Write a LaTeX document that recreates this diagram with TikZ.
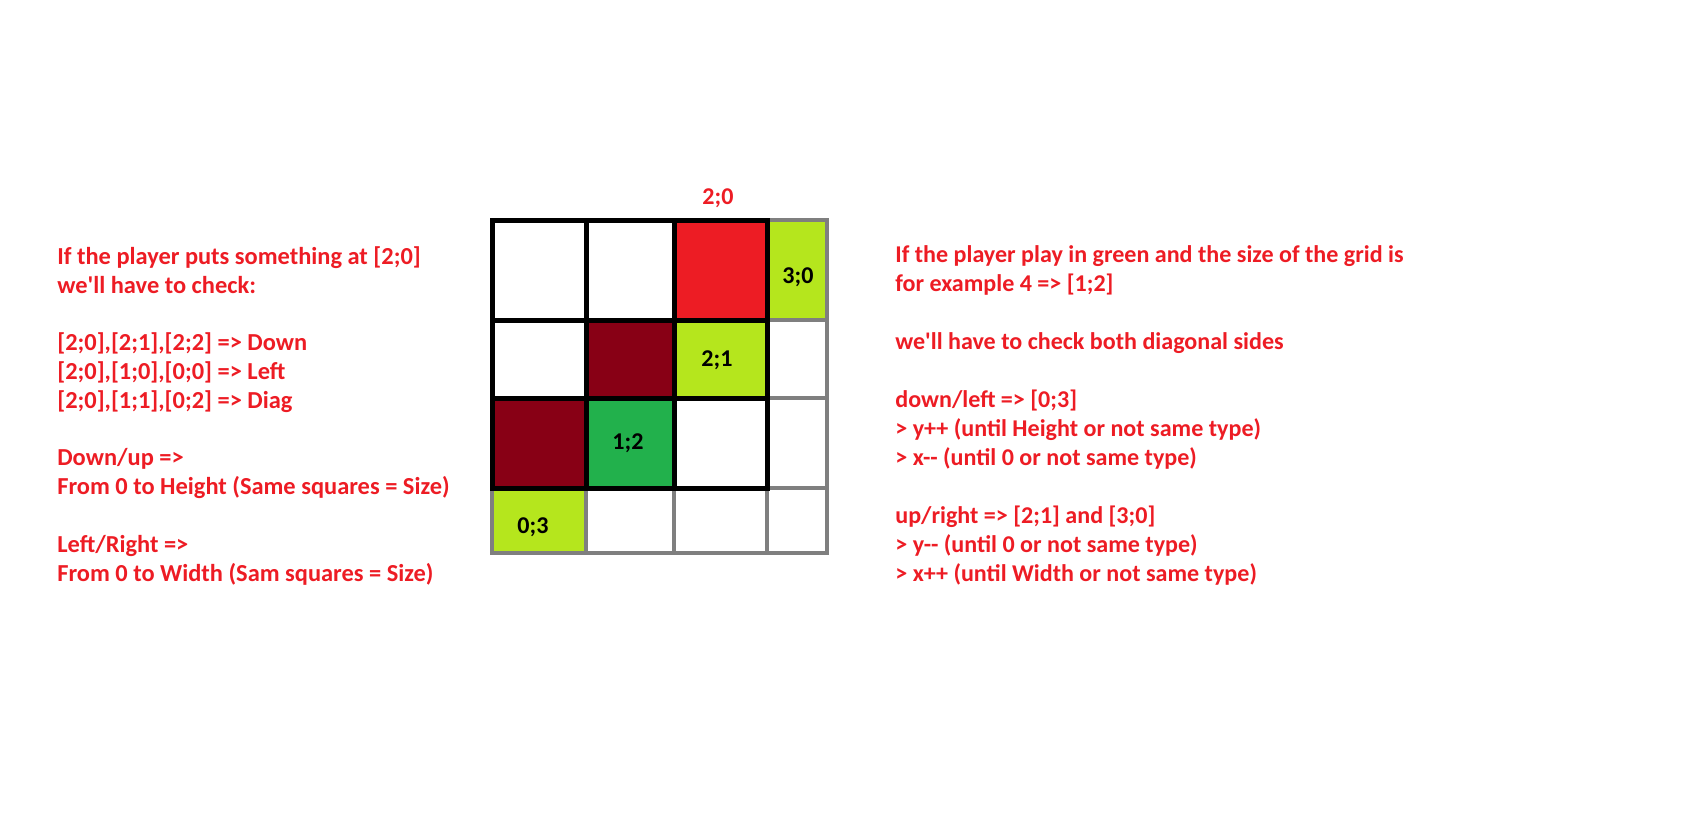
\documentclass[tikz,border=0pt]{standalone}
\usepackage{fontspec}
\setmainfont{Carlito}
\usepackage{xcolor}
\definecolor{paintred}{HTML}{ED1C24}
\definecolor{paintdark}{HTML}{880015}
\definecolor{paintgreen}{HTML}{22B14C}
\definecolor{paintlime}{HTML}{B5E61D}
\definecolor{paintgray}{HTML}{7F7F7F}
\tikzset{
  font={\fontsize{13.7pt}{16.4pt}\selectfont\bfseries}}

\begin{document}
\begin{tikzpicture}[x=0.02cm, y=-0.02cm]

    \tikzset{note/.style = {anchor=north west, inner sep=0pt, align=left, text=paintred}}
    \tikzset{cell/.style = {inner sep=0pt}}

    \useasboundingbox (0,0) rectangle (1697,815);

    % cells
    \fill[paintred]   (674,220) rectangle (767,320);
    \fill[paintlime]  (767,220) rectangle (827,320);
    \fill[paintdark]  (586,320) rectangle (674,398);
    \fill[paintlime]  (674,320) rectangle (767,398);
    \fill[paintdark]  (492,398) rectangle (586,488);
    \fill[paintgreen] (586,398) rectangle (674,488);
    \fill[paintlime]  (492,488) rectangle (586,553);

    % grid lines
    \draw[paintgray, line width=2.3pt] (492,220) rectangle (827,553);
    \draw[paintgray, line width=2.3pt] (586,488) -- (586,553) (674,488) -- (674,553) (767,220) -- (767,553);
    \draw[paintgray, line width=2.3pt] (767,320) -- (827,320) (767,398) -- (827,398) (767,488) -- (827,488);
    \draw[black, line width=2.85pt] (492,220) rectangle (767,488);
    \draw[black, line width=2.85pt] (586,220) -- (586,488) (674,220) -- (674,488);
    \draw[black, line width=2.85pt] (492,320) -- (767,320) (492,398) -- (767,398);

    % labels
    \node[cell, text=paintred] (top) at (718,198) {2;0};
    \node[cell] (c30) at (798,277) {3;0};
    \node[cell] (c21) at (717,360) {2;1};
    \node[cell] (c12) at (628,443) {1;2};
    \node[cell] (c03) at (533,527) {0;3};

    % texts
    \node[note, font={\fontsize{13.9pt}{16.4pt}\selectfont\bfseries}] (left) at (57,246) {If the player puts something at [2;0]\\
      we\textquotesingle ll have to check:\\[16.4pt]
      {[2;0],[2;1],[2;2]} => Down\\
      {[2;0],[1;0],[0;0]} => Left\\
      {[2;0],[1;1],[0;2]} => Diag\\[16.4pt]
      Down/up =>\\
      From 0 to Height (Same squares = Size)\\[16.4pt]
      Left/Right =>\\
      From 0 to Width (Sam squares = Size)};
    \node[note, font={\fontsize{13.7pt}{16.5pt}\selectfont\bfseries}] (right) at (895,245) {If the player play in green and the size of the grid is\\
      for example 4 => [1;2]\\[16.5pt]
      we\textquotesingle ll have to check both diagonal sides\\[16.5pt]
      down/left => [0;3]\\
      > y++ (until Height or not same type)\\
      > x-{}- (until 0 or not same type)\\[16.5pt]
      up/right => [2;1] and [3;0]\\
      > y-{}- (until 0 or not same type)\\
      > x++ (until Width or not same type)};

\end{tikzpicture}
\end{document}
